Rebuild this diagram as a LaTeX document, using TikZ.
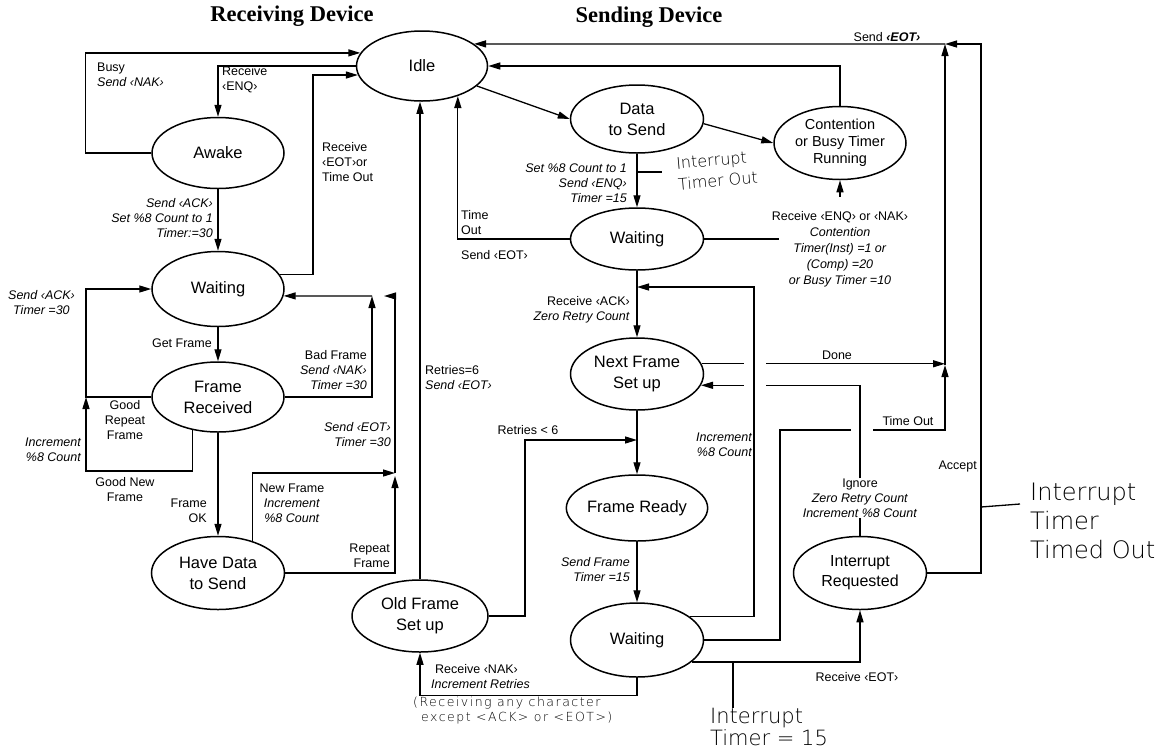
\documentclass[tikz,border=0pt]{standalone}
\usepackage{fontspec}
\setmainfont{Liberation Sans}
\newfontfamily\titlefont{Liberation Serif}
\newfontfamily\hand{DejaVu Sans ExtraLight}
\usetikzlibrary{shapes.geometric,arrows.meta,calc}
\tikzset{
  st/.style={ellipse, draw, line width=1.5pt, inner sep=0pt, align=center,
    font=\fontsize{16.5}{21}\selectfont, minimum width=133pt, minimum height=72pt},
  arr/.style={line width=1.3pt, -{Triangle[length=12pt,width=7pt]}},
  ln/.style={line width=1.3pt},
  lab/.style={inner sep=0pt, font=\fontsize{12.5}{15}\selectfont},
  labi/.style={inner sep=0pt, font=\fontsize{12.5}{15}\selectfont\itshape},
  ttl/.style={inner sep=0pt, font=\titlefont\bfseries\fontsize{22.5}{26}\selectfont},
  hw/.style={inner sep=0pt, align=left},
}
\begin{document}
\begin{tikzpicture}[x=1pt,y=-1pt]
\useasboundingbox[fill=white] (0,0) rectangle (1159,753);

% titles
\node[ttl] (t1) at (292,16) {Receiving Device};
\node[ttl] (t2) at (649,17) {Sending Device};

% states
\node[st, minimum width=131pt, minimum height=70pt] (idle) at (422,66) {Idle};
\node[st, minimum height=68pt] (data) at (637,119) {Data\\to Send};
\node[st, minimum width=132pt, minimum height=73pt, font=\fontsize{14.5}{17}\selectfont] (cont) at (840,143) {Contention\\or Busy Timer\\Running};
\node[st, minimum height=62pt] (waitA) at (637,239) {Waiting};
\node[st] (nextF) at (637,374) {Next Frame\\Set up};
\node[st, minimum height=66pt] (ready) at (637,508) {Frame Ready};
\node[st, minimum height=74pt] (waitB) at (637,640) {Waiting};
\node[st, minimum height=73pt, font=\fontsize{16}{20}\selectfont] (intr) at (860,573) {Interrupt\\Requested};
\node[st, minimum width=136pt] (old) at (420,616) {Old Frame\\Set up};
\node[st, minimum width=132pt, minimum height=71pt] (awake) at (218,153) {Awake};
\node[st, minimum width=132pt, minimum height=75pt] (waitR) at (218,289) {Waiting};
\node[st, minimum width=132pt, minimum height=70pt] (frec) at (218,397) {Frame\\Received};
\node[st, minimum height=73pt] (have) at (218,573) {Have Data\\to Send};

% junction coordinates
\coordinate (grj) at (86,397);
\coordinate (gnj) at (86,471);
\coordinate (rj) at (372,296);
\coordinate (rj2) at (384,296);
\coordinate (nfj) at (395,473);
\coordinate (nfj2) at (395,476);
\coordinate (j1) at (637,440);
\coordinate (j2) at (637,287);
\coordinate (eotj) at (945,44);
\coordinate (dj) at (945,365);
\coordinate (t1c) at (981,507);
\coordinate (t2c) at (733,662);
\coordinate (t3c) at (637,172);

% receiving device connectors
\draw[arr] (awake.west) -- ++(-66,0) |- (idle.168);
\draw[arr] (idle.west) -| (awake.north);
\draw[arr] (waitR.13) -| (313,100) |- (idle.188);
\draw[arr] (awake.south) -- (waitR.north);
\draw[arr] (waitR.south) -- (frec.north);
\draw[arr] (frec.west) -- (grj) |- (waitR.west);
\draw[arr] (frec.232) |- (gnj) -- (grj);
\draw[arr] (frec.east) -| (rj);
\draw[arr] (rj) -- (waitR.-6);
\draw[arr] (nfj) |- (rj2);
\draw[arr] (have.43) |- (nfj);
\draw[arr] (have.east) -| (nfj2);
\draw[arr] (frec.south) -- (have.north);

% sending device connectors
\draw[arr] (idle.-20) -- (data.west);
\draw[arr] (data.-4) -- (cont.west);
\draw[arr] (cont.north) |- (idle.east);
\draw[arr] (data.south) -- (waitA.north);
\draw[arr] (waitA.west) -| (idle.-40);
\draw[arr] (old.north) -- (old.north |- idle.south);
\draw[arr] (waitA.south) -- (nextF.north);
\draw[arr] (nextF.south) -- (ready.north);
\draw[arr] (ready.south) -- (waitB.north);
\draw[arr] (old.east) -| (525,440) -- (j1);
\draw[arr] (waitB.south) -- ++(0,18) -| (old.south);
\draw[arr] (waitB.-22) -| (intr.south);
\draw[arr] (eotj) -- (idle.23);
\draw[arr] (intr.east) -| (981,44) -- (eotj);
\draw[arr] (dj) -- (eotj);

\node[lab, align=center, font=\fontsize{12.5}{16}\selectfont] (contl) at (840,249)
  {Receive ‹ENQ› or ‹NAK›\\\textit{Contention}\\\textit{Timer(Inst) =1 or}\\\textit{(Comp) =20}\\\textit{or Busy Timer =10}};
\draw[ln] (waitA.east) -- ++(75,0);
\draw[arr, shorten <=14pt] (contl.north) -- (cont.south);

\node[lab, align=center] (ignl) at (860,498) {Ignore\\\textit{Zero Retry Count}\\\textit{Increment \%8 Count}};

% crossing lines (gaps)
\draw[arr] (nextF.9) -- (nextF.9 -| dj);
\draw[arr] (waitB.east) -| (780,430) -| (dj);
\fill[white] (851,423) rectangle (873,437);
\draw[ln] (intr.north) -- (ignl.south);
\draw[arr] (ignl.north) |- (nextF.-10);
\fill[white] (744,356) rectangle (766,394);
\draw[arr] (waitB.24) -| (754,287) -- (j2);

% labels: receiving
\node[lab, anchor=west, align=left] (l1) at (97,75) {Busy\\\textit{Send ‹NAK›}};
\node[lab, anchor=west, align=left] (l2) at (222,80) {Receive\\‹ENQ›};
\node[lab, anchor=west, align=left] (l3) at (322,162) {Receive\\‹EOT›or\\Time Out};
\node[labi, anchor=east, align=right] (l4) at (213,218) {Send ‹ACK›\\Set \%8 Count to 1\\Timer:=30};
\node[lab, anchor=east] (l5) at (212,343) {Get Frame};
\node[labi, anchor=west, align=left] (l6) at (8,303) {Send ‹ACK›\\\hspace{5pt}Timer =30};
\node[lab, align=center] (l7) at (125,420) {Good\\Repeat\\Frame};
\node[labi, anchor=east, align=right] (l8) at (81,450) {Increment\\\%8 Count};
\node[lab, align=center] (l9) at (125,490) {Good New\\Frame};
\node[lab, anchor=east, align=right] (l10) at (207,511) {Frame\\OK};
\node[lab, anchor=east, align=right] (l11) at (367,370) {Bad Frame\\\textit{Send ‹NAK›}\\\textit{Timer =30}};
\node[labi, anchor=east, align=right] (l12) at (391,435) {Send ‹EOT›\\Timer =30};
\node[lab, align=center] (l13) at (292,503) {New Frame\\\textit{Increment}\\\textit{\%8 Count}};
\node[lab, anchor=east, align=right] (l14) at (390,556) {Repeat\\Frame};

% labels: sending
\node[lab] (s1) at (887,37) {Send \textbf{\textit{‹EOT›}}};
\node[labi, anchor=east, align=right] (s2) at (627,183) {Set \%8 Count to 1\\Send ‹ENQ›\\Timer =15};
\node[lab, anchor=west, align=left] (s3) at (461,223) {Time\\Out};
\node[lab, anchor=west] (s4) at (461,255) {Send ‹EOT›};
\node[lab, anchor=west, align=left] (s5) at (425,378) {Retries=6\\\textit{Send ‹EOT›}};
\node[lab, anchor=east, align=right] (s7) at (630,310) {Receive ‹ACK›\\\textit{Zero Retry Count}};
\node[lab] (s8) at (837,355) {Done};
\node[lab] (s9) at (528,430) {Retries < 6};
\node[labi, anchor=east, align=right] (s10) at (752,445) {Increment\\\%8 Count};
\node[lab] (s11) at (908,421) {Time Out};
\node[lab, anchor=east] (s13) at (977,466) {Accept};
\node[labi, anchor=east, align=right] (s14) at (630,570) {Send Frame\\Timer =15};
\node[lab, anchor=west, align=left] (s15) at (431,677) {\hspace{4pt}Receive ‹NAK›\\\textit{Increment Retries}};
\node[lab] (s16) at (857,677) {Receive ‹EOT›};

% handwritten notes
\node[hw, anchor=west, font=\hand\fontsize{12.5}{15}\selectfont\addfontfeatures{LetterSpace=12}] (h1) at (413,711)
  {(Receiving any character\\\hspace{8pt}except <ACK> or <EOT>)};
\node[hw, anchor=west, rotate=5, font=\hand\fontsize{16}{21}\selectfont] (h2) at (677,174) {Interrupt\\Timer Out};
\node[hw, anchor=west, font=\hand\fontsize{21}{22}\selectfont] (h3) at (710,727) {Interrupt\\Timer = 15};
\node[hw, anchor=west, font=\hand\fontsize{24}{29}\selectfont] (h4) at (1030,521) {Interrupt\\Timer\\Timed Out};
\draw[ln] (t3c) -- ++(25,0);
\draw[ln] (t2c) -- (t2c |- h3.north);
\draw[ln] (t1c) -- ++(39,-3);
\end{tikzpicture}
\end{document}
